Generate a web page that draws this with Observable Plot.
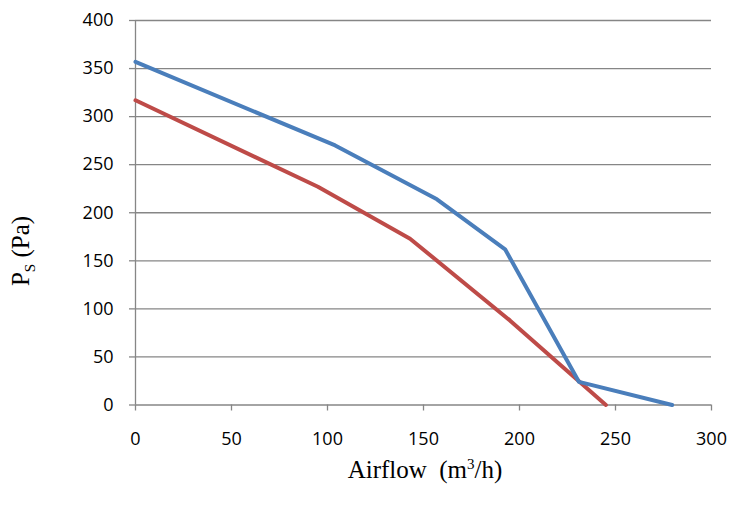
<!DOCTYPE html>
<html>
<head>
<meta charset="utf-8">
<script src="https://cdn.jsdelivr.net/npm/d3@7"></script>
<script src="https://cdn.jsdelivr.net/npm/@observablehq/plot@0.6"></script>
<style>
  html, body { margin: 0; padding: 0; background: #fff; }
  #chart { width: 732px; height: 506px; }
</style>
</head>
<body>
<div id="chart"></div>
<script>
const blueX = [0, 104, 157, 192.5, 231, 279.5];
const blueY = [357, 270, 214, 162, 24, 0];
const redX = [0, 95, 143, 195, 245];
const redY = [317, 227, 173, 88, 0];
const xTicks = [0, 50, 100, 150, 200, 250, 300];
const yTicks = [0, 50, 100, 150, 200, 250, 300, 350, 400];

const blue = blueX.map((x, i) => ({x, y: blueY[i]}));
const red = redX.map((x, i) => ({x, y: redY[i]}));

const gray = "#868686";
const chart = Plot.plot({
  width: 732,
  height: 506,
  marginLeft: 135,
  marginRight: 21,
  marginTop: 20,
  marginBottom: 101.5,
  style: {fontFamily: "'Open Sans', sans-serif", color: "#000", background: "#fff"},
  x: {domain: [0, 300]},
  y: {domain: [0, 400]},
  marks: [
    Plot.gridY(yTicks, {stroke: gray, strokeOpacity: 1, strokeWidth: 1.3}),
    Plot.ruleX([0], {stroke: gray, strokeWidth: 1.3}),
    Plot.axisY(yTicks, {tickSize: 6, tickPadding: 16, stroke: gray, strokeWidth: 1.3, label: null, fill: "#000", fontSize: 18}),
    Plot.axisX(xTicks, {tickSize: 6, tickPadding: 21, stroke: gray, strokeWidth: 1.3, label: null, fill: "#000", fontSize: 18}),
    Plot.line(red, {x: "x", y: "y", stroke: "#BE4B48", strokeWidth: 4}),
    Plot.line(blue, {x: "x", y: "y", stroke: "#4A7EBB", strokeWidth: 4})
  ]
});

const svg = d3.select(chart);
svg.append("text")
  .attr("x", 425).attr("y", 478)
  .attr("text-anchor", "middle")
  .style("font-family", "'Liberation Serif', 'DejaVu Serif', serif")
  .style("font-size", "25px")
  .attr("fill", "#000")
  .html("Airflow&#160;&#160;(m<tspan dy='-9' font-size='15px'>3</tspan><tspan dy='9'>/h)</tspan>");
svg.append("text")
  .attr("transform", "translate(29,251) rotate(-90)")
  .attr("text-anchor", "middle")
  .style("font-family", "'Liberation Serif', 'DejaVu Serif', serif")
  .style("font-size", "25px")
  .attr("fill", "#000")
  .html("P<tspan dy='6' font-size='15px'>S</tspan><tspan dy='-6'>&#160;(Pa)</tspan>");

document.getElementById("chart").appendChild(chart);
</script>
</body>
</html>
